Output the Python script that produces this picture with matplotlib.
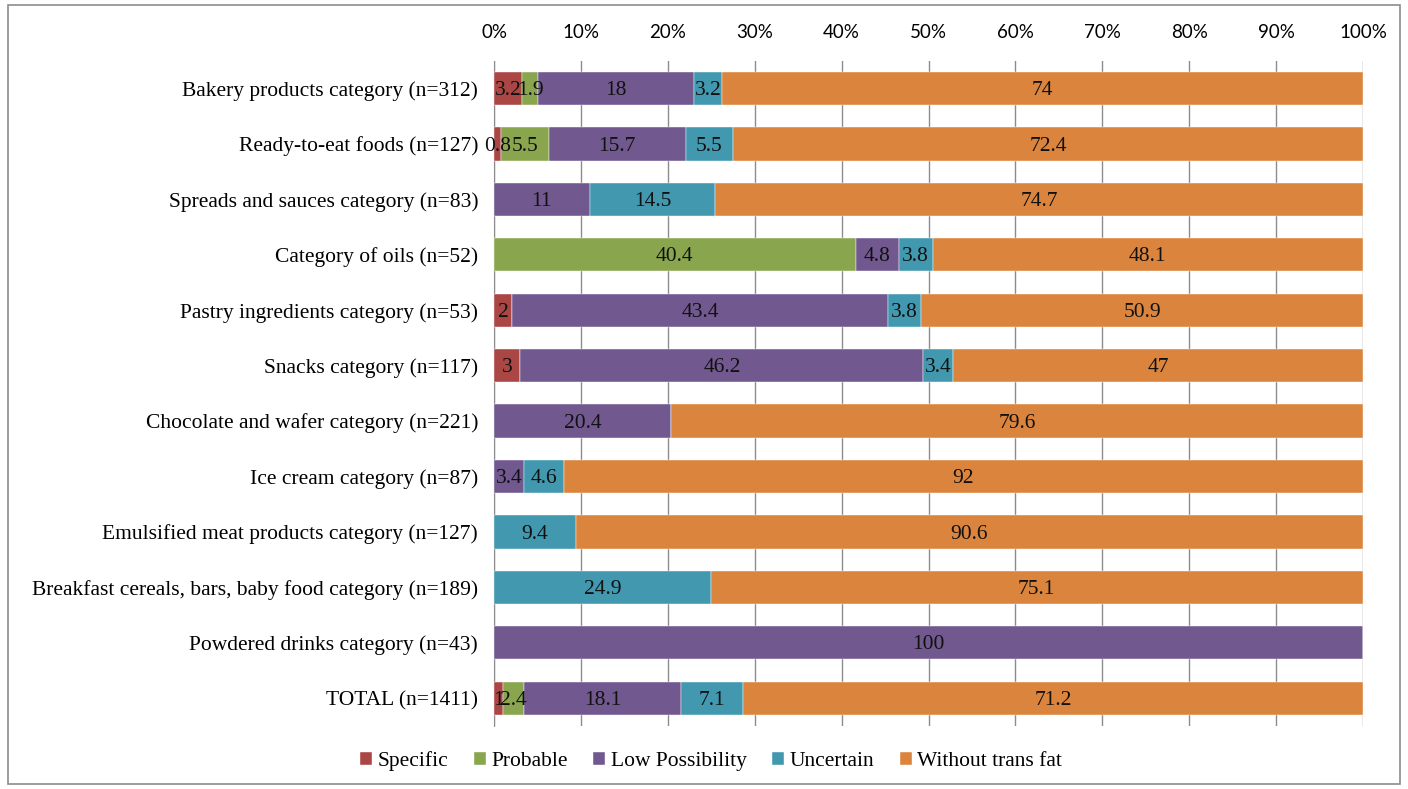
import numpy as np
import matplotlib
matplotlib.use("Agg")
import matplotlib.pyplot as plt
from matplotlib.patches import Rectangle

categories = [
    "Bakery products category (n=312)",
    "Ready-to-eat foods (n=127)",
    "Spreads and sauces category (n=83)",
    "Category of oils (n=52)",
    "Pastry ingredients category (n=53)",
    "Snacks category (n=117)",
    "Chocolate and wafer category (n=221)",
    "Ice cream category (n=87)",
    "Emulsified meat products category (n=127)",
    "Breakfast cereals, bars, baby food category (n=189)",
    "Powdered drinks category (n=43)",
    "TOTAL (n=1411)",
]
series = ["Specific", "Probable", "Low Possibility", "Uncertain", "Without trans fat"]
specific = [3.2, 0.8, 0, 0, 2, 3, 0, 0, 0, 0, 0, 1]
probable = [1.9, 5.5, 0, 40.4, 0, 0, 0, 0, 0, 0, 0, 2.4]
low_possibility = [18, 15.7, 11, 4.8, 43.4, 46.2, 20.4, 3.4, 0, 0, 100, 18.1]
uncertain = [3.2, 5.5, 14.5, 3.8, 3.8, 3.4, 0, 4.6, 9.4, 24.9, 0, 7.1]
without_trans = [74, 72.4, 74.7, 48.1, 50.9, 47, 79.6, 92, 90.6, 75.1, 0, 71.2]
colors = ["#AA4643", "#89A54E", "#71588F", "#4198AF", "#DB843D"]

data = np.array([specific, probable, low_possibility, uncertain, without_trans])
# 100% stacked: each row is scaled to its own total
totals = data.sum(axis=0)
shares = data / totals * 100

serif = ["Liberation Serif", "DejaVu Serif"]

fig = plt.figure(figsize=(14.08, 7.89), dpi=100)
fig.patches.append(Rectangle((0.006, 0.006), 0.988, 0.988, transform=fig.transFigure,
                             fill=False, edgecolor="#8c8c8c", linewidth=1.2))
ax = fig.add_axes([0.351, 0.080, 0.617, 0.843])

y = np.arange(len(categories))
left = np.zeros(len(categories))
for i, name in enumerate(series):
    ax.barh(y, shares[i], left=left, height=0.6, color=colors[i], label=name,
            edgecolor="white", linewidth=0.3, zorder=3)
    for j in range(len(categories)):
        if data[i, j] > 0:
            ax.text(left[j] + shares[i, j] / 2, y[j] + 0.04, f"{data[i, j]:g}",
                    ha="center", va="center", fontsize=15.5, family=serif,
                    color="#111111", zorder=4)
    left += shares[i]

ax.set_xlim(0, 100)
ax.set_ylim(len(categories) - 0.5, -0.5)
ax.set_yticks(y)
ax.set_yticklabels(categories, family=serif, fontsize=15.5)
ax.set_xticks(np.arange(0, 101, 10))
ax.set_xticklabels([f"{v}%" for v in range(0, 101, 10)],
                   family=["Lato", "DejaVu Sans"], fontsize=13.5)
ax.xaxis.tick_top()
ax.tick_params(axis="y", length=0, pad=11.5)
ax.tick_params(axis="x", length=0, pad=14)
ax.grid(axis="x", color="#8c8c8c", linewidth=1.0, zorder=0)
for side in ["top", "right", "bottom"]:
    ax.spines[side].set_visible(False)
ax.spines["left"].set_color("#8c8c8c")

fig.legend(loc="lower center", bbox_to_anchor=(0.505, -0.002), ncol=5, frameon=False,
           prop={"family": serif, "size": 15.5}, handlelength=0.55, handleheight=0.55,
           handletextpad=0.25, columnspacing=1.2)

plt.savefig("out.png", dpi=100)
